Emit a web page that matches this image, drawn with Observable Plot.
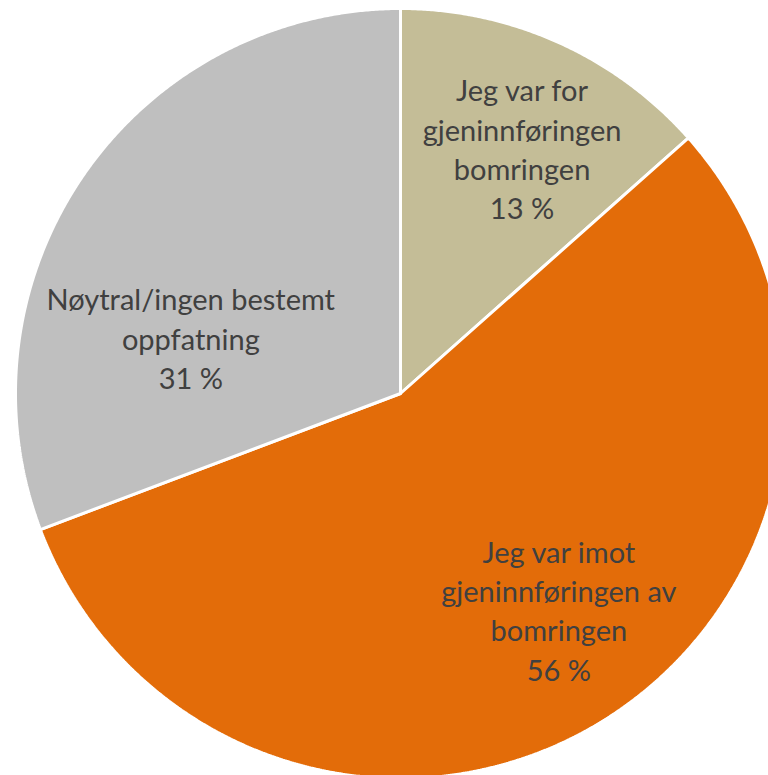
<!DOCTYPE html>
<html>
<head>
<meta charset="utf-8">
<script src="https://cdn.jsdelivr.net/npm/d3@7"></script>
<script src="https://cdn.jsdelivr.net/npm/@observablehq/plot@0.6"></script>
<style>
  html, body { margin: 0; padding: 0; background: #fff; }
  #chart { width: 768px; height: 775px; overflow: hidden; }
</style>
</head>
<body>
<div id="chart"></div>
<script>
// Data
const categories = [
  "Jeg var for gjeninnføringen bomringen",
  "Jeg var imot gjeninnføringen av bomringen",
  "Nøytral/ingen bestemt oppfatning"
];
const labelLines = [
  ["Jeg var for", "gjeninnføringen", "bomringen"],
  ["Jeg var imot", "gjeninnføringen av", "bomringen"],
  ["Nøytral/ingen bestemt", "oppfatning"]
];
// slice shares (labels show rounded %)
const values = [13.45, 55.8, 30.75];
const colors = ["#C4BD97", "#E36C09", "#BFBFBF"];

// Label placement tweaks (style): radial factor and pixel offsets
const labelRadius = [0.70, 0.70, 0.70];
const labelDx = [11, 19, 12];
const labelDy = [0, -15, 97];

// Build pie geometry in unit coordinates
const pie = d3.pie().sort(null).value(d => d)(values);
const polys = [];
pie.forEach((a, i) => {
  const pts = [{x: 0, y: 0, cat: categories[i]}];
  const n = Math.max(2, Math.ceil((a.endAngle - a.startAngle) / 0.005));
  for (let k = 0; k <= n; k++) {
    const t = a.startAngle + (a.endAngle - a.startAngle) * k / n;
    pts.push({x: Math.sin(t), y: Math.cos(t), cat: categories[i]});
  }
  pts.push({x: 0, y: 0, cat: categories[i]});
  polys.push(...pts);
});

const labels = [];
pie.forEach((a, i) => {
  const mid = (a.startAngle + a.endAngle) / 2;
  const r = labelRadius[i];
  const lines = [...labelLines[i], `${Math.round(values[i])} %`];
  labels.push({x: r * Math.sin(mid), y: r * Math.cos(mid), text: lines.join("\n"), i});
});

const R = 385, cx = 400, cy = 393, W = 768, H = 775;

const chart = Plot.plot({
  width: W,
  height: H,
  margin: 0,
  x: {domain: [-cx / R, (W - cx) / R], range: [0, W], axis: null},
  y: {domain: [-(H - cy) / R, cy / R], range: [H, 0], axis: null},
  color: {domain: categories, range: colors},
  style: {background: "#fff"},
  marks: [
    Plot.line(polys, {x: "x", y: "y", z: "cat", fill: "cat", stroke: "white", strokeWidth: 3, strokeLinejoin: "miter", curve: "linear"}),
    ...labels.map(l => Plot.text([l], {
      x: "x", y: "y", text: "text",
      dx: labelDx[l.i], dy: labelDy[l.i],
      fill: "#404040", fontSize: 29, lineHeight: 1.36,
      fontFamily: "Lato", textAnchor: "middle"
    }))
  ]
});
document.getElementById("chart").appendChild(chart);
</script>
</body>
</html>
